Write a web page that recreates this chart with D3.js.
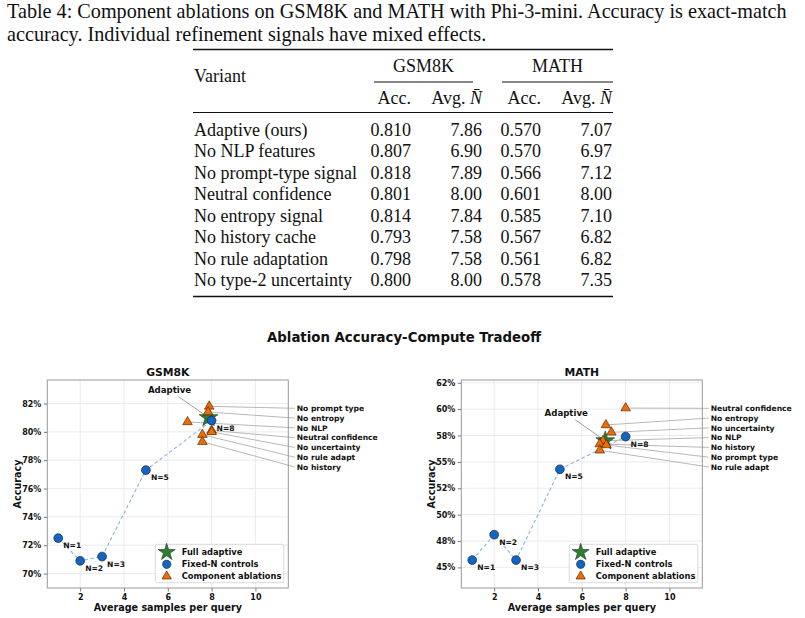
<!DOCTYPE html>
<html>
<head>
<meta charset="utf-8">
<script src="https://cdn.jsdelivr.net/npm/d3@7"></script>
<style>
body { margin: 0; background: #fff; }
svg text { fill: #111; }
.serif { font-family: "Liberation Serif", "Times New Roman", serif; }
.sans { font-family: "DejaVu Sans", sans-serif; font-weight: bold; }
</style>
</head>
<body>
<svg id="fig" width="805" height="618"></svg>
<script>

// ---- table data ----
var caption_lines = [
	"Table 4: Component ablations on GSM8K and MATH with Phi-3-mini. Accuracy is exact-match",
	"accuracy. Individual refinement signals have mixed effects."
];
var variants = ["Adaptive (ours)", "No NLP features", "No prompt-type signal", "Neutral confidence",
	"No entropy signal", "No history cache", "No rule adaptation", "No type-2 uncertainty"];
var short_names = ["Adaptive", "No NLP", "No prompt type", "Neutral confidence",
	"No entropy", "No history", "No rule adapt", "No uncertainty"];
var gsm_acc = [0.810, 0.807, 0.818, 0.801, 0.814, 0.793, 0.798, 0.800];
var gsm_n = [7.86, 6.90, 7.89, 8.00, 7.84, 7.58, 7.58, 8.00];
var math_acc = [0.570, 0.570, 0.566, 0.601, 0.585, 0.567, 0.561, 0.578];
var math_n = [7.07, 6.97, 7.12, 8.00, 7.10, 6.82, 6.82, 7.35];

// ---- fixed-N controls ----
var fixed_n = [1, 2, 3, 5, 8];
var gsm_fixed_acc = [0.725, 0.709, 0.712, 0.773, 0.808];
var math_fixed_acc = [0.457, 0.481, 0.457, 0.543, 0.574];

// ---- axes ticks ----
var x_ticks = [2, 4, 6, 8, 10];
var gsm_y_ticks = [0.70, 0.72, 0.74, 0.76, 0.78, 0.80, 0.82];
var gsm_y_labels = ["70%", "72%", "74%", "76%", "78%", "80%", "82%"];
var math_y_ticks = [0.45, 0.475, 0.50, 0.525, 0.55, 0.575, 0.60, 0.625];
var math_y_labels = ["45%", "48%", "50%", "52%", "55%", "58%", "60%", "62%"];
var legend_labels = ["Full adaptive", "Fixed-N controls", "Component ablations"];

var c_blue = "#1565c0", c_orange = "#ef6c00", c_green = "#2e7d32";

var svg = d3.select("#fig");

function draw_table(){
	var g = svg.append("g").attr("class", "serif");
	caption_lines.forEach(function(t, i){
		g.append("text").attr("x", 7).attr("y", 18 + i * 22.6)
			.style("font-size", "20.2px").text(t);
	});
	var left = 193, right = 613;
	g.append("line").attr("x1", left).attr("x2", right).attr("y1", 49.5).attr("y2", 49.5)
		.attr("stroke", "#111").attr("stroke-width", 1.6);
	g.append("text").attr("x", 194).attr("y", 82).style("font-size", "18px").text("Variant");
	var groups = [{name: "GSM8K", x1: 374, x2: 473}, {name: "MATH", x1: 502, x2: 613}];
	groups.forEach(function(gr){
		g.append("text").attr("x", (gr.x1 + gr.x2) / 2).attr("y", 72)
			.attr("text-anchor", "middle").style("font-size", "18px").text(gr.name);
		g.append("line").attr("x1", gr.x1).attr("x2", gr.x2).attr("y1", 82).attr("y2", 82)
			.attr("stroke", "#111").attr("stroke-width", 1);
	});
	var col_right = [411, 482, 541, 612];
	col_right.forEach(function(cx, i){
		var t = g.append("text").attr("x", cx).attr("y", 104)
			.attr("text-anchor", "end").style("font-size", "18px");
		if (i % 2 === 0) t.text("Acc.");
		else {
			t.append("tspan").text("Avg. ");
			t.append("tspan").style("font-style", "italic").text("N\u0304");
		}
	});
	g.append("line").attr("x1", left).attr("x2", right).attr("y1", 112.5).attr("y2", 112.5)
		.attr("stroke", "#111").attr("stroke-width", 1);
	var row_y = d3.scaleLinear().domain([0, 7]).range([136, 286]);
	variants.forEach(function(v, i){
		var y = row_y(i);
		g.append("text").attr("x", 194).attr("y", y).style("font-size", "18px").text(v);
		var vals = [gsm_acc[i].toFixed(3), gsm_n[i].toFixed(2), math_acc[i].toFixed(3), math_n[i].toFixed(2)];
		vals.forEach(function(s, j){
			g.append("text").attr("x", col_right[j]).attr("y", y).attr("text-anchor", "end")
				.style("font-size", "18px").text(s);
		});
	});
	g.append("line").attr("x1", left).attr("x2", right).attr("y1", 296.5).attr("y2", 296.5)
		.attr("stroke", "#111").attr("stroke-width", 1.6);
}

function draw_panel(opt){
	var ax = {left: opt.left, right: opt.left + 241, top: 380, bottom: 588};
	var x = d3.scaleLinear().domain([0.5, 11.5]).range([ax.left, ax.right]);
	var y = d3.scaleLinear().domain(opt.ydom).range([ax.bottom, ax.top]);
	var g = svg.append("g").attr("class", "sans");

	// grid
	g.selectAll(".gx").data(x_ticks).enter().append("line")
		.attr("x1", function(d){ return x(d); }).attr("x2", function(d){ return x(d); })
		.attr("y1", ax.top).attr("y2", ax.bottom).attr("stroke", "#e6e6e6").attr("stroke-width", 0.8);
	g.selectAll(".gy").data(opt.yticks).enter().append("line")
		.attr("y1", function(d){ return y(d); }).attr("y2", function(d){ return y(d); })
		.attr("x1", ax.left).attr("x2", ax.right).attr("stroke", "#e6e6e6").attr("stroke-width", 0.8);

	// axes
	var xa = g.append("g").attr("transform", "translate(0," + ax.bottom + ")")
		.call(d3.axisBottom(x).tickValues(x_ticks).tickSize(3.5).tickPadding(2.5).tickFormat(d3.format("d")));
	var ya = g.append("g").attr("transform", "translate(" + ax.left + ",0)")
		.call(d3.axisLeft(y).tickValues(opt.yticks).tickSize(3.5).tickPadding(2.5)
			.tickFormat(function(d, i){ return opt.ylabels[i]; }));
	[xa, ya].forEach(function(a){
		a.select(".domain").remove();
		a.selectAll("line").attr("stroke", "#555").attr("stroke-width", 0.8);
		a.selectAll("text").attr("fill", "#111").style("font-family", "DejaVu Sans")
			.style("font-weight", "bold").style("font-size", "8px");
	});
	g.append("rect").attr("x", ax.left).attr("y", ax.top)
		.attr("width", ax.right - ax.left).attr("height", ax.bottom - ax.top)
		.attr("fill", "none").attr("stroke", "#999").attr("stroke-width", 1);

	// titles
	var cx = (ax.left + ax.right) / 2;
	g.append("text").attr("x", cx).attr("y", 376).attr("text-anchor", "middle")
		.style("font-size", "10.8px").text(opt.title);
	g.append("text").attr("x", cx).attr("y", 611).attr("text-anchor", "middle")
		.style("font-size", "9.6px").text("Average samples per query");
	g.append("text").attr("transform", "translate(" + (ax.left - 26) + "," + ((ax.top + ax.bottom) / 2) + ") rotate(-90)")
		.attr("text-anchor", "middle").style("font-size", "9.6px").text("Accuracy");

	// fixed-N dashed line
	var pts = fixed_n.map(function(n, i){ return [n, opt.fixed[i]]; });
	g.append("path").datum(pts)
		.attr("d", d3.line().x(function(d){ return x(d[0]); }).y(function(d){ return y(d[1]); }))
		.attr("fill", "none").attr("stroke", "#8ab4e6").attr("stroke-width", 1.1)
		.attr("stroke-dasharray", "3.5,2.5");

	// annotation leader lines for ablations (sorted by accuracy)
	var abl = [];
	for (var i = 1; i < variants.length; i++)
		abl.push({name: short_names[i], n: opt.n[i], acc: opt.acc[i]});
	abl.sort(function(a, b){ return b.acc - a.acc; });
	var lab_x = ax.right + 8.4;
	abl.forEach(function(d, k){
		var ly = 408.3 + k * 9.78;
		g.append("line").attr("x1", lab_x - 2).attr("y1", ly).attr("x2", x(d.n)).attr("y2", y(d.acc))
			.attr("stroke", "#999").attr("stroke-width", 0.7);
		g.append("text").attr("x", lab_x).attr("y", ly + 2.8).style("font-size", "7.6px").text(d.name);
	});

	// adaptive annotation
	var sx = x(opt.n[0]), sy = y(opt.acc[0]);
	g.append("line").attr("x1", sx - 30).attr("y1", sy - 21).attr("x2", sx).attr("y2", sy)
		.attr("stroke", "#777").attr("stroke-width", 0.7);
	g.append("text").attr("x", sx - 39).attr("y", sy - 25).attr("text-anchor", "middle")
		.style("font-size", "8.6px").text(short_names[0]);

	// markers: star, circles, triangles
	g.append("path").attr("d", d3.symbol().type(d3.symbolStar).size(110)())
		.attr("transform", "translate(" + sx + "," + sy + ")")
		.attr("fill", c_green).attr("stroke", "#1b3a1b").attr("stroke-width", 0.6);
	g.selectAll(".fix").data(pts).enter().append("circle")
		.attr("cx", function(d){ return x(d[0]); }).attr("cy", function(d){ return y(d[1]); })
		.attr("r", 4.4).attr("fill", c_blue).attr("stroke", "#10284a").attr("stroke-width", 0.7);
	g.selectAll(".fixlab").data(pts).enter().append("text")
		.attr("x", function(d){ return x(d[0]) + 5; }).attr("y", function(d){ return y(d[1]) + 10; })
		.style("font-size", "7.6px").attr("fill", "#222").text(function(d){ return "N=" + d[0]; });
	g.selectAll(".abl").data(abl).enter().append("path")
		.attr("d", d3.symbol().type(d3.symbolTriangle).size(40)())
		.attr("transform", function(d){ return "translate(" + x(d.n) + "," + y(d.acc) + ")"; })
		.attr("fill", c_orange).attr("stroke", "#3a1a00").attr("stroke-width", 0.6);

	// legend
	var lg = g.append("g").attr("transform", "translate(" + (ax.left + 108) + ",544.3)");
	lg.append("rect").attr("width", 128.5).attr("height", 38.4).attr("rx", 2)
		.attr("fill", "#fff").attr("fill-opacity", 0.85).attr("stroke", "#d0d0d0").attr("stroke-width", 0.8);
	legend_labels.forEach(function(t, i){
		var ly = 8 + i * 12;
		var m;
		if (i === 0) m = lg.append("path").attr("d", d3.symbol().type(d3.symbolStar).size(90)())
			.attr("fill", c_green).attr("stroke", "#1b3a1b");
		else if (i === 1) m = lg.append("circle").attr("r", 4.2).attr("fill", c_blue).attr("stroke", "#10284a");
		else m = lg.append("path").attr("d", d3.symbol().type(d3.symbolTriangle).size(38)())
			.attr("fill", c_orange).attr("stroke", "#3a1a00");
		m.attr("transform", "translate(11.4," + ly + ")").attr("stroke-width", 0.6);
		lg.append("text").attr("x", 26.4).attr("y", ly + 3).style("font-size", "8.3px").text(t);
	});
}

draw_table();
svg.append("text").attr("class", "sans").attr("x", 404).attr("y", 342).attr("text-anchor", "middle")
	.style("font-size", "13.3px").text("Ablation Accuracy-Compute Tradeoff");
draw_panel({left: 47.3, title: "GSM8K", ydom: [0.6898, 0.8366], yticks: gsm_y_ticks, ylabels: gsm_y_labels,
	fixed: gsm_fixed_acc, acc: gsm_acc, n: gsm_n});
draw_panel({left: 461.3, title: "MATH", ydom: [0.4305, 0.6276], yticks: math_y_ticks, ylabels: math_y_labels,
	fixed: math_fixed_acc, acc: math_acc, n: math_n});

</script>
</body>
</html>
